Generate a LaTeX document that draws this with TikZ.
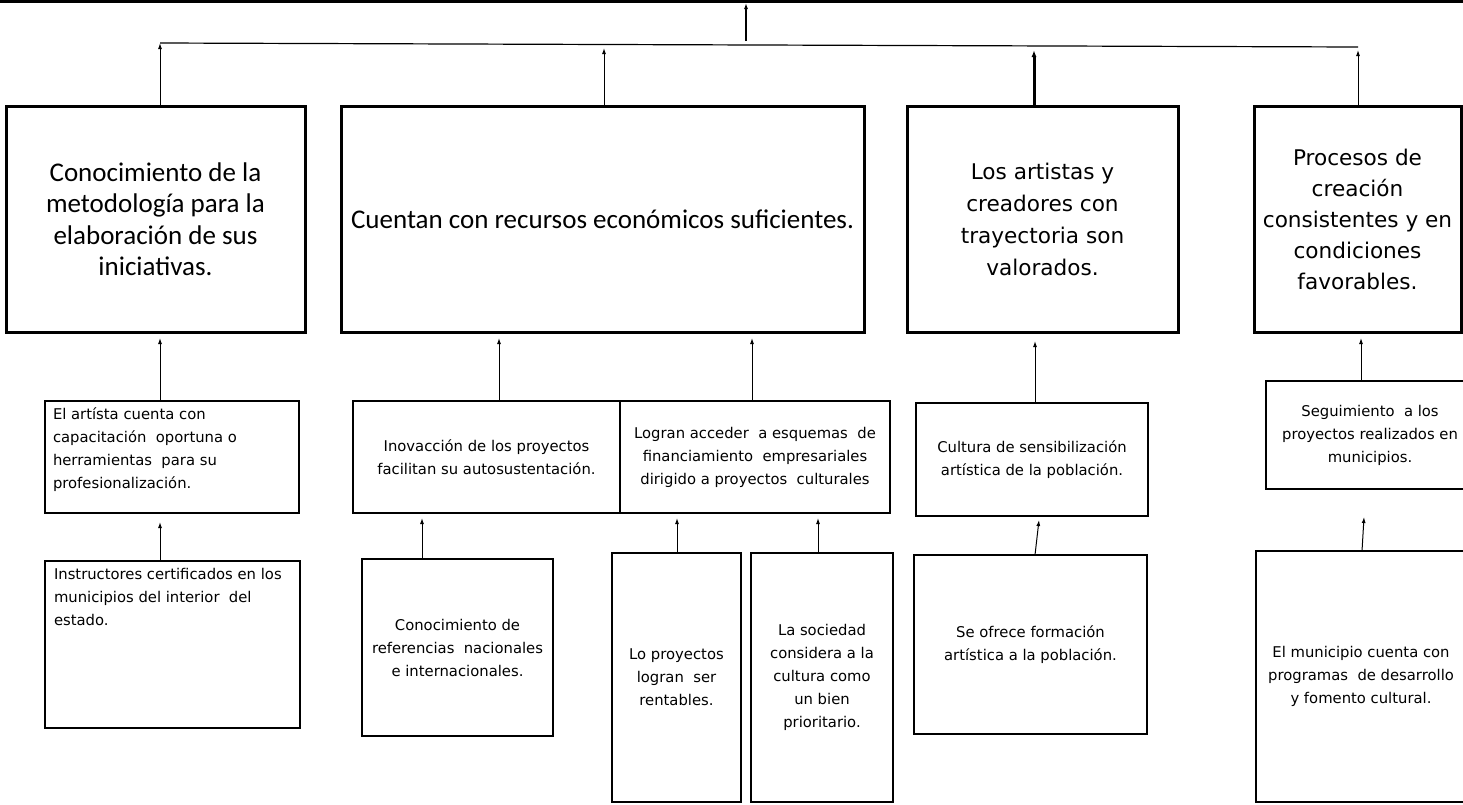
\documentclass[tikz,border=0pt]{standalone}
\usepackage{fontspec}
\setmainfont{Carlito}
\newfontfamily\dvs{DejaVu Sans}
\usetikzlibrary{arrows.meta,calc}
\begin{document}
\begin{tikzpicture}[x=1pt,y=-1pt,
  bigbox/.style={draw,line width=3pt,inner sep=0pt,outer sep=0pt,anchor=north west,align=center},
  smallbox/.style={draw,line width=1.4pt,inner sep=0pt,outer sep=0pt,anchor=north west,align=center,font=\dvs\fontsize{14.8}{23}\selectfont},
  smalltext/.style={inner sep=0pt,outer sep=0pt,anchor=north west,align=left,font=\dvs\fontsize{14.8}{23}\selectfont},
  cfont/.style={font=\fontsize{27}{31.5}\selectfont},
  dfont/.style={font=\dvs\fontsize{21.6}{32}\selectfont},
  efont/.style={font=\dvs\fontsize{21.6}{31}\selectfont},
  arr/.style={line width=1pt,-{Latex[length=6pt,width=4pt]}},
]
\useasboundingbox (0,0) rectangle (1463,804);

% top line and branch line
\coordinate (tl) at (0,1.5);
\coordinate (tr) at (1463,1.5);
\coordinate (tc) at (746,3);
\coordinate (hc) at (746,41);
\coordinate (hl) at (160,43);
\coordinate (hr) at (1358,47);
\draw[line width=3pt] (tl) -- (tr);
\draw[line width=1.2pt] (hl) -- (hr);
\draw[arr,line width=1.2pt] (hc) -- (tc);

% top level boxes
\node[bigbox,cfont,minimum width=299pt,minimum height=226pt] (T1) at (6,106)
  {Conocimiento de la\\metodología para la\\elaboración de sus\\iniciativas.};
\node[bigbox,cfont,minimum width=523pt,minimum height=226pt] (T2) at (341,106)
  {Cuentan con recursos económicos suficientes.};
\node[bigbox,dfont,minimum width=271pt,minimum height=226pt] (T3) at (907,106)
  {Los artistas y\\creadores con\\trayectoria son\\valorados.};
\node[bigbox,efont,minimum width=207pt,minimum height=226pt] (T4) at (1254,106)
  {Procesos de\\creación\\consistentes y en\\condiciones\\favorables.};

\draw[arr] ($(T1.north west)+(154,0)$) -- (hl);
\draw[arr] ($(T2.north west)+(263,0)$) -- ($(T2.north west)+(263,-58)$);
\draw[arr,line width=3pt,-{Latex[length=7pt,width=5pt]}] ($(T3.north west)+(127,0)$) -- ($(T3.north west)+(127,-56)$);
\draw[arr] ($(T4.north west)+(104,0)$) -- ($(T4.north west)+(104,-56)$);

% second level
\node[smallbox,minimum width=254pt,minimum height=112pt] (A) at (45,401) {};
\node[smalltext] (Atxt) at ($(A.north west)+(8,7)$)
  {El artísta cuenta con\\capacitación\ \ oportuna o\\herramientas\ \ para su\\profesionalización.};
\node[smallbox,minimum width=267pt,minimum height=112pt] (B) at (353,401)
  {Inovacción de los proyectos\\facilitan su autosustentación.};
\node[smallbox,minimum width=270pt,minimum height=112pt] (C) at (620,401)
  {Logran acceder\ \ a esquemas\ \ de\\financiamiento\ \ empresariales\\dirigido a proyectos\ \ culturales};
\node[smallbox,minimum width=232pt,minimum height=113pt] (D) at (916,403)
  {Cultura de sensibilización\\artística de la población.};
\node[smallbox,minimum width=208pt,minimum height=108pt] (E) at (1266,381)
  {Seguimiento\ \ a los\\proyectos realizados en\\municipios.};

\draw[arr] ($(A.north west)+(115,0)$) -- ($(T1.south west)+(154,6)$);
\draw[arr] ($(B.north west)+(146,0)$) -- ($(T2.south west)+(158,6)$);
\draw[arr] ($(C.north west)+(132,0)$) -- ($(T2.south west)+(411,6)$);
\draw[arr] ($(D.north west)+(119,0)$) -- ($(T3.south west)+(128,9)$);
\draw[arr] ($(E.north west)+(95,0)$) -- ($(T4.south west)+(107,6)$);

% third level
\node[smallbox,minimum width=255pt,minimum height=167pt] (A2) at (45,561) {};
\node[smalltext] (A2txt) at ($(A2.north west)+(9,7)$)
  {Instructores certificados en los\\municipios del interior\ \ del\\estado.};
\node[smallbox,minimum width=191pt,minimum height=177pt] (B2) at (362,559)
  {Conocimiento de\\referencias\ \ nacionales\\e internacionales.};
\node[smallbox,minimum width=129pt,minimum height=249pt] (C2a) at (612,553)
  {Lo proyectos\\logran\ \ ser\\rentables.};
\node[smallbox,minimum width=142pt,minimum height=249pt] (C2b) at (751,553)
  {La sociedad\\considera a la\\cultura como\\un bien\\prioritario.};
\node[smallbox,minimum width=233pt,minimum height=179pt] (D2) at (914,555)
  {Se ofrece formación\\artística a la población.};
\node[smallbox,minimum width=210pt,minimum height=251pt] (E2) at (1256,551)
  {El municipio cuenta con\\programas\ \ de desarrollo\\y fomento cultural.};

\draw[arr] ($(A2.north west)+(115,0)$) -- ($(A.south west)+(115,9)$);
\draw[arr] ($(B2.north west)+(60,0)$) -- ($(B.south west)+(69,5)$);
\draw[arr] ($(C2a.north west)+(65,0)$) -- ($(C.south west)+(57,5)$);
\draw[arr] ($(C2b.north west)+(67,0)$) -- ($(C.south west)+(198,5)$);
\draw[arr] ($(D2.north west)+(121,0)$) -- ($(D.south west)+(123,4)$);
\draw[arr] ($(E2.north west)+(106,0)$) -- ($(E.south west)+(98,28)$);
\end{tikzpicture}
\end{document}
